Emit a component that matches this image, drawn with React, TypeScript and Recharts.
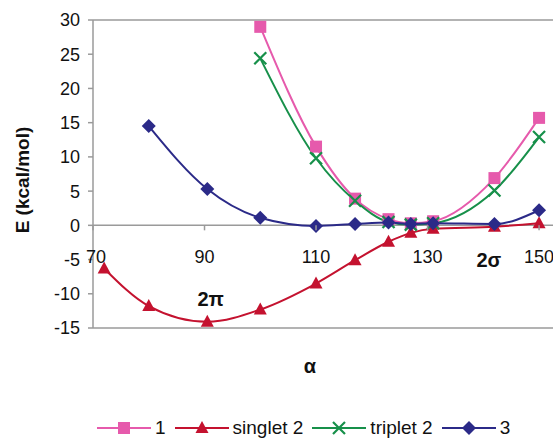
import { LineChart, Line, XAxis, YAxis, ReferenceLine, ReferenceDot, Legend, Label } from 'recharts';

// bond angle α (deg) and energies E (kcal/mol)
const anglesS1 = [100, 110, 117, 123, 127, 131, 142, 150];
const energyS1 = [29, 11.5, 3.9, 0.9, 0.3, 0.6, 6.9, 15.7];

const anglesSinglet2 = [72, 80, 90.5, 100, 110, 117, 123, 127, 131, 142, 150];
const energySinglet2 = [-6.3, -11.8, -14.1, -12.3, -8.5, -5.1, -2.4, -1.1, -0.5, -0.2, 0.3];

const anglesTriplet2 = [100, 110, 117, 123, 127, 131, 142, 150];
const energyTriplet2 = [24.4, 9.8, 3.6, 0.5, 0.1, 0.3, 5.1, 12.9];

const anglesS3 = [80, 90.5, 100, 110, 117, 123, 127, 131, 142, 150];
const energyS3 = [14.5, 5.3, 1.1, -0.1, 0.2, 0.4, 0.2, 0.3, 0.2, 2.2];

const xTicks = [70, 90, 110, 130, 150];
const yTicks = [-15, -10, -5, 0, 5, 10, 15, 20, 25, 30];

// annotations placed in data coordinates
const notes = [
  { label: '2π', a: 91.1, e: -11.8 },
  { label: '2σ', a: 141, e: -6.1 },
];

const Y_MIN = -15;
const Y_MAX = 30;
const PLOT_H = 308;

const colors = {
  s1: '#e65aac',
  singlet: '#c4122f',
  triplet: '#17904a',
  s3: '#2b2a88',
};
const axisGrey = '#9a9a9a';
const font = '"Liberation Sans", Arial, sans-serif';

const toRows = (xs: number[], ys: number[]) => xs.map((a, i) => ({ a, e: ys[i] }));

const Square = ({ cx, cy, color }: any) => <rect x={cx - 6} y={cy - 6} width={12} height={12} fill={color} />;
const Triangle = ({ cx, cy, color }: any) => (
  <polygon points={`${cx},${cy - 7} ${cx + 6.5},${cy + 5} ${cx - 6.5},${cy + 5}`} fill={color} />
);
const Cross = ({ cx, cy, color }: any) => (
  <path d={`M${cx - 6},${cy - 6}L${cx + 6},${cy + 6}M${cx + 6},${cy - 6}L${cx - 6},${cy + 6}`} stroke={color} strokeWidth={2.2} />
);
const Diamond = ({ cx, cy, color }: any) => (
  <polygon points={`${cx},${cy - 7} ${cx + 7},${cy} ${cx},${cy + 7} ${cx - 7},${cy}`} fill={color} />
);

const series = [
  { key: 's1', name: '1', rows: toRows(anglesS1, energyS1), color: colors.s1, Marker: Square },
  { key: 'singlet', name: 'singlet 2', rows: toRows(anglesSinglet2, energySinglet2), color: colors.singlet, Marker: Triangle },
  { key: 'triplet', name: 'triplet 2', rows: toRows(anglesTriplet2, energyTriplet2), color: colors.triplet, Marker: Cross },
  { key: 's3', name: '3', rows: toRows(anglesS3, energyS3), color: colors.s3, Marker: Diamond },
];

// x tick labels sit on the E = 0 line, not at the bottom of the plot
const ZERO_SHIFT = (PLOT_H * (0 - Y_MIN)) / (Y_MAX - Y_MIN);
const XTick = ({ x, y, payload }: any) => {
  const y0 = y - ZERO_SHIFT;
  return (
    <g>
      <line x1={x} x2={x} y1={y0} y2={y0 + 5} stroke={axisGrey} strokeWidth={1.5} />
      <text x={x + (payload.value === 70 ? 3 : 0)} y={y0 + 38} textAnchor="middle" fontSize={18} fontFamily={font} fill="#111">
        {payload.value}
      </text>
    </g>
  );
};

const LegendContent = () => (
  <div style={{ display: 'flex', alignItems: 'center', paddingLeft: 97, fontFamily: font, fontSize: 19, color: '#111', height: 20 }}>
    {series.map(s => (
      <div key={s.key} style={{ display: 'flex', alignItems: 'center', marginRight: 9 }}>
        <svg width={54} height={20}>
          <line x1={0} x2={54} y1={10} y2={10} stroke={s.color} strokeWidth={2} />
          <s.Marker cx={27} cy={10} color={s.color} />
        </svg>
        <span style={{ marginLeft: 4 }}>{s.name}</span>
      </div>
    ))}
  </div>
);

export default function App() {
  return (
    <div style={{ position: 'absolute', left: 0, top: 0 }}>
      <LineChart width={553} height={438} margin={{ top: 20, right: 0, bottom: 0, left: 0 }}>
        <XAxis
          type="number"
          dataKey="a"
          domain={[70, 152.5]}
          ticks={xTicks}
          allowDataOverflow
          axisLine={false}
          tickLine={false}
          tickSize={0}
          tickMargin={0}
          height={90}
          tick={<XTick />}
        >
          <Label
            content={({ viewBox }: any) => (
              <text x={viewBox.x + 217} y={viewBox.y + 45} textAnchor="middle" fontSize={20} fontWeight="bold" fontFamily={font} fill="#111">
                α
              </text>
            )}
          />
        </XAxis>
        <YAxis
          type="number"
          domain={[Y_MIN, Y_MAX]}
          ticks={yTicks}
          width={93}
          axisLine={{ stroke: axisGrey, strokeWidth: 1.5 }}
          tickLine={{ stroke: axisGrey, strokeWidth: 1.5 }}
          tickSize={5}
          tickMargin={8}
          tick={{ fontSize: 18, fill: '#111', fontFamily: font }}
        >
          <Label
            content={({ viewBox }: any) => {
              const cx = viewBox.x + 29;
              const cy = viewBox.y + viewBox.height / 2 + 6;
              return (
                <text x={cx} y={cy} transform={`rotate(-90, ${cx}, ${cy})`} textAnchor="middle" fontSize={19} fontWeight="bold" fontFamily={font} fill="#111">
                  E (kcal/mol)
                </text>
              );
            }}
          />
        </YAxis>
        <ReferenceLine y={Y_MAX} stroke={axisGrey} strokeWidth={1.5} />
        <ReferenceLine y={0} stroke={axisGrey} strokeWidth={1.5} />
        <ReferenceLine y={Y_MIN} stroke={axisGrey} strokeWidth={1.5} />
        {series.map(s => (
          <Line
            key={s.key}
            data={s.rows}
            dataKey="e"
            name={s.name}
            type="monotone"
            stroke={s.color}
            strokeWidth={2}
            isAnimationActive={false}
            dot={(p: any) => <s.Marker key={`${s.key}-${p.index}`} cx={p.cx} cy={p.cy} color={s.color} />}
            activeDot={false}
          />
        ))}
        {notes.map(n => (
          <ReferenceDot
            key={n.label}
            x={n.a}
            y={n.e}
            r={0}
            fill="none"
            stroke="none"
            label={{
              content: ({ viewBox }: any) => (
                <text x={viewBox.x} y={viewBox.y} textAnchor="middle" fontSize={20} fontWeight="bold" fontFamily={font} fill="#111">
                  {n.label}
                </text>
              ),
            }}
          />
        ))}
        <Legend verticalAlign="bottom" height={20} content={<LegendContent />} />
      </LineChart>
    </div>
  );
}
